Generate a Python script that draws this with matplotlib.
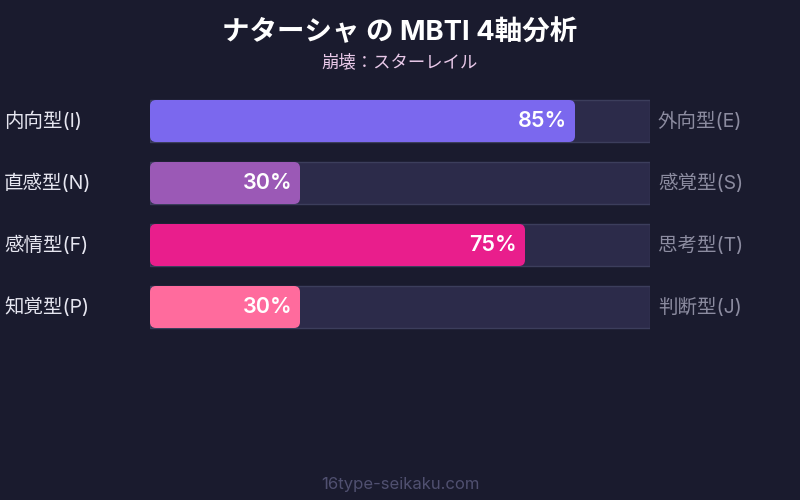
import matplotlib.pyplot as plt
from matplotlib.patches import FancyBboxPatch, Rectangle

plt.rcParams['font.family'] = ['Inter', 'Noto Sans CJK JP', 'DejaVu Sans']

title = 'ナターシャ の MBTI 4軸分析'
subtitle = '崩壊：スターレイル'
left_labels = ['内向型(I)', '直感型(N)', '感情型(F)', '知覚型(P)']
right_labels = ['外向型(E)', '感覚型(S)', '思考型(T)', '判断型(J)']
values = [85, 30, 75, 30]
colors = ['#7b68ee', '#9b59b6', '#e91e8c', '#ff6b9d']
footer = '16type-seikaku.com'

BG = '#1a1b2e'
W, H = 800, 500

fig = plt.figure(figsize=(8, 5), dpi=100, facecolor=BG)

# axes over the bar track: x 150..650 px, y 90..338 px
ax = fig.add_axes([150 / W, 1 - 338 / H, 500 / W, 248 / H])
ax.set_xlim(0, 100)
ax.set_ylim(len(values) - 0.5, -0.5)
ax.axis('off')

bar_h = 42 / 62
px_x = 100 / 500
px_y = 1 / 62
aspect = px_y / px_x

for i, (v, c) in enumerate(zip(values, colors)):
    y0 = i - bar_h / 2
    ax.add_patch(Rectangle((0, y0), 100, bar_h, facecolor='#2c2b4a',
                           edgecolor='#3c3e5c', linewidth=1))
    ax.add_patch(FancyBboxPatch((0, y0), v, bar_h,
                                boxstyle=f'round,pad=0,rounding_size={6 * px_x}',
                                mutation_aspect=aspect,
                                facecolor=c, edgecolor='none'))
    ax.text(v - 8 * px_x, i, f'{v}%', ha='right', va='center',
            color='white', fontsize=15.5, fontweight='semibold')
    ax.text(-146 * px_x, i, left_labels[i], ha='left', va='center',
            color='#e6e6f0', fontsize=14, clip_on=False)
    ax.text(100 + 8 * px_x, i, right_labels[i], ha='left', va='center',
            color='#8c8ca0', fontsize=14, clip_on=False)

fig.text(0.5, 1 - 33 / H, title, ha='center', va='center',
         color='white', fontsize=19.8, fontweight='bold')
fig.text(0.5, 1 - 63 / H, subtitle, ha='center', va='center',
         color='#e8c8e8', fontsize=12.5)
fig.text(0.5, 1 - 484 / H, footer, ha='center', va='center',
         color='#505070', fontsize=12)

fig.savefig('out.png', dpi=100, facecolor=BG)
